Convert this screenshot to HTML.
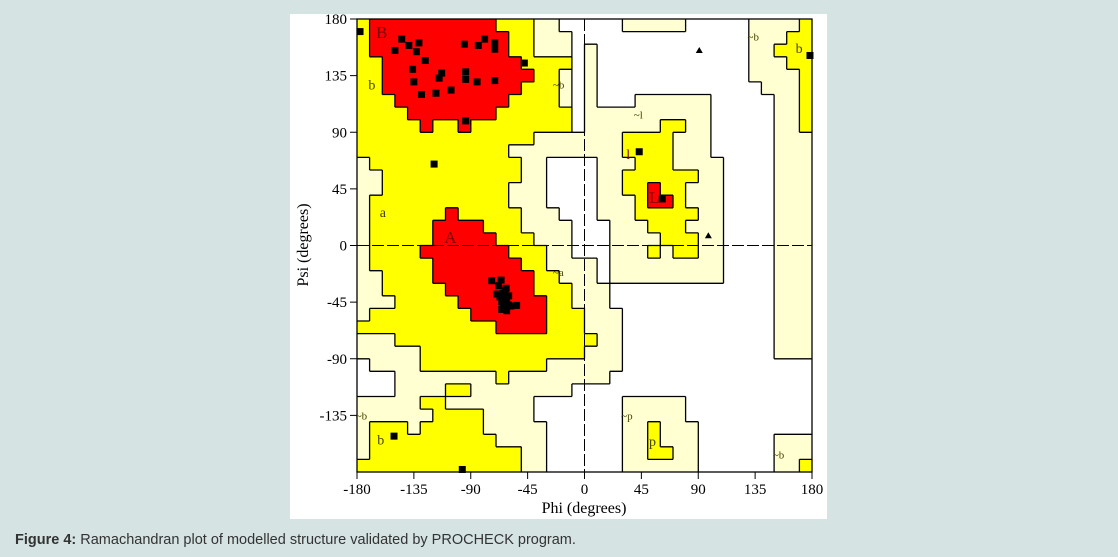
<!DOCTYPE html>
<html><head><meta charset="utf-8">
<style>
html,body{margin:0;padding:0;background:#d5e3e3;width:1118px;height:557px;overflow:hidden;font-family:"Liberation Sans",sans-serif;}
#panel{position:absolute;left:290px;top:14px;width:537px;height:505px;background:#fff;}
#cap{position:absolute;left:15px;top:532px;font-size:14.5px;color:#333;white-space:nowrap;}
svg{position:absolute;left:0;top:0;}
</style></head>
<body>
<div id="panel"></div>
<svg id="chart" width="1118" height="557"></svg>
<div id="cap"><b>Figure 4:</b> Ramachandran plot of modelled structure validated by PROCHECK program.</div>
<script>
// Region cells: [row, colStart, colEnd) on a 36x36 grid of 10-degree cells (row 0 = psi 180..170)
const lightCells=[[0,14,16],[0,21,26],[0,31,36],[1,14,17],[1,31,36],[2,14,17],[2,18,19],[2,31,36],[3,18,19],[3,31,36],
[4,16,17],[4,18,19],[4,31,36],[5,16,17],[5,18,19],[5,32,36],[6,16,17],[6,18,19],[6,22,28],[6,33,36],
[7,18,28],[7,33,36],[8,18,28],[8,33,36],[9,14,28],[9,33,36],[10,12,28],[10,33,36],
[11,0,1],[11,13,15],[11,19,29],[11,33,36],[12,0,2],[12,13,15],[12,19,29],[12,33,36],[13,0,2],[13,12,15],[13,19,29],[13,33,36],
[14,0,1],[14,12,15],[14,19,29],[14,33,36],[15,0,1],[15,13,16],[15,19,29],[15,33,36],[16,0,1],[16,13,17],[16,20,29],[16,33,36],
[17,0,1],[17,14,17],[17,20,29],[17,33,36],[18,0,1],[18,15,17],[18,20,29],[18,33,36],[19,0,1],[19,15,19],[19,20,29],[19,33,36],
[20,0,2],[20,16,19],[20,20,29],[20,33,36],[21,0,2],[21,17,20],[21,33,36],[22,0,3],[22,17,20],[22,33,36],
[23,0,1],[23,18,21],[23,33,36],[24,18,21],[24,33,36],[25,0,3],[25,19,21],[25,33,36],[26,0,5],[26,18,21],[26,33,36],
[27,1,5],[27,15,21],[28,3,11],[28,12,20],[29,3,7],[29,9,17],[30,0,5],[30,7,14],[30,21,26],[31,0,6],[31,10,14],[31,21,26],
[32,0,1],[32,4,5],[32,10,15],[32,21,27],[33,0,1],[33,11,15],[33,21,27],[33,33,36],[34,0,1],[34,13,15],[34,21,27],[34,33,36],
[35,13,15],[35,21,27],[35,33,36]];
const yellowCells=[[0,0,1],[0,11,14],[0,35,36],[1,0,1],[1,12,14],[1,34,36],[2,0,1],[2,12,14],[2,33,36],[3,0,2],[3,13,17],[3,34,36],
[4,0,2],[4,14,16],[4,35,36],[5,0,2],[5,13,16],[5,35,36],[6,0,3],[6,12,16],[6,35,36],[7,0,4],[7,11,17],[7,35,36],
[8,0,17],[8,24,26],[8,35,36],[9,0,14],[9,21,25],[10,0,12],[10,21,25],[11,1,13],[11,22,25],[12,2,13],[12,21,27],
[13,2,12],[13,21,26],[14,1,12],[14,22,26],[15,1,13],[15,22,27],[16,1,13],[16,23,26],[17,1,14],[17,24,27],
[18,1,15],[18,23,24],[18,25,27],[19,1,15],[20,2,16],[21,2,17],[22,3,17],[23,1,18],[24,0,18],[25,3,19],[26,5,18],
[27,5,15],[28,11,12],[29,7,9],[30,5,7],[31,6,10],[32,1,4],[32,5,10],[32,23,24],[33,1,11],[33,23,24],[34,1,13],[34,23,25],
[35,0,13],[35,35,36]];
const redCells=[[0,1,11],[1,1,12],[2,1,12],[3,2,13],[4,2,14],[5,2,13],[6,3,12],[7,4,11],[8,5,6],[8,8,9],
[15,7,8],[16,6,10],[17,6,11],[18,5,12],[19,6,13],[20,6,14],[21,7,14],[22,8,15],[23,9,15],[24,11,15],[13,23,24],[14,23,25]];
// residues (phi, psi)
const phiVals=[-177.6,-144.6,-139,-131,-150,-133,-126,-136,-135,-113,-115,-129,-117.5,-105.6,-95,-84,-79,-71,-71,-47.6,-94,-94,-85,-71,-94,-119,
-73.4,-66,-68,-62,-69.5,-66.9,-64.3,-62.9,-65.5,-61.6,-64.3,-60.3,-65.5,-61.6,-58.4,-53.7,-63,-60,-62,-64,
-150.7,-96.7,43.3,61.5,178.4];
const psiVals=[170,164,159,161,155,154,147,140,130,137,133,120,121,123.5,160,159,164,161,156,145,138,132,130,131,99,64.7,
-28,-27.5,-32,-34,-38.6,-40.8,-38,-42,-44.7,-44.7,-47.3,-47.3,-50.8,-51.9,-48.1,-47.6,-36,-40,-45,-43,
-151.5,-178,74.5,37,151];
const glyPhi=[90.8,98];
const glyPsi=[155,7.7];
const xTicks=[-180,-135,-90,-45,0,45,90,135,180];
const yTicks=[180,135,90,45,0,-45,-90,-135];
const regionLabels=[["B",-165,172,"#700"],["b",-171,131,"#440"],["a",-162,30,"#440"],["A",-111,9,"#700"],["~b",-25,132,"#440"],["~a",-25,-17,"#440"],
["~l",39,108,"#440"],["l",33,76,"#700"],["L",51,41,"#700"],["~b",129,170,"#440"],["b",167,160,"#440"],["~p",29,-131,"#440"],["p",51,-152,"#440"],
["~b",149,-162,"#440"],["~b",-181,-131,"#440"],["b",-164,-151,"#440"]];

const X0=357,X1=812,Y0=19,Y1=472;
const sx=p=>X0+(p+180)*(X1-X0)/360;
const sy=q=>Y0+(180-q)*(Y1-Y0)/360;
const cw=(X1-X0)/36,ch=(Y1-Y0)/36;
const svg=document.getElementById('chart');
const NS='http://www.w3.org/2000/svg';
function mk(t,a,parent){const e=document.createElementNS(NS,t);for(const k in a)e.setAttribute(k,a[k]);(parent||svg).appendChild(e);return e;}

const grid=[];for(let r=0;r<36;r++){grid.push(new Array(36).fill(0));}
function fill(cells,lvl,color,name){
  const g=mk('g',{});
  
  
  cells.forEach(c=>{
    for(let k=c[1];k<c[2];k++)grid[c[0]][k]=lvl;
    const el=mk('rect',{x:X0+c[1]*cw,y:Y0+c[0]*ch,width:(c[2]-c[1])*cw+0.4,height:ch+0.4,fill:color},g);
    
    
  });
}
fill(lightCells,1,'#ffffd2','generously-allowed-region');
fill(yellowCells,2,'#ffff00','additional-allowed-region');
fill(redCells,3,'#ff0000','most-favoured-region');
let d='';
for(let r=0;r<36;r++)for(let c=0;c<36;c++){
  const v=grid[r][c];
  if(c<35&&grid[r][c+1]!==v){const x=X0+(c+1)*cw;d+=`M${x.toFixed(1)},${(Y0+r*ch).toFixed(1)}V${(Y0+(r+1)*ch).toFixed(1)}`;}
  if(r<35&&grid[r+1][c]!==v){const y=Y0+(r+1)*ch;d+=`M${(X0+c*cw).toFixed(1)},${y.toFixed(1)}H${(X0+(c+1)*cw).toFixed(1)}`;}
}
const bd=mk('path',{d:d,stroke:'#000','stroke-width':1.3,fill:'none'});


const zl1=mk('line',{x1:sx(0),x2:sx(0),y1:Y0,y2:Y1,stroke:'#000','stroke-width':1,'stroke-dasharray':'12,3'});


const zl2=mk('line',{x1:X0,x2:X1,y1:sy(0),y2:sy(0),stroke:'#000','stroke-width':1,'stroke-dasharray':'12,3'});


const fr=mk('rect',{x:X0,y:Y0,width:X1-X0,height:Y1-Y0,fill:'none',stroke:'#000','stroke-width':1.3});


regionLabels.forEach(l=>{
  const up=l[0].length===1&&l[0]===l[0].toUpperCase();
  const t=mk('text',{x:sx(l[1]),y:sy(l[2])+9,fill:l[3],'font-family':'Liberation Serif,serif','font-size':l[0].length>1?11:(up?17:14)});
  t.textContent=l[0];
  
  
});
xTicks.forEach(v=>{
  const tk=mk('line',{x1:sx(v),x2:sx(v),y1:Y1,y2:Y1+7,stroke:'#000','stroke-width':1});
  
  
  const t=mk('text',{x:sx(v),y:Y1+22,'text-anchor':'middle','font-family':'Liberation Serif,serif','font-size':15,fill:'#000'});
  t.textContent=v;
  
  
});
yTicks.forEach(v=>{
  const tk=mk('line',{x1:X0-7,x2:X0,y1:sy(v),y2:sy(v),stroke:'#000','stroke-width':1});
  
  
  const t=mk('text',{x:X0-10,y:sy(v)+5,'text-anchor':'end','font-family':'Liberation Serif,serif','font-size':15,fill:'#000'});
  t.textContent=v;
  
  
});
const xt=mk('text',{x:584,y:513,'text-anchor':'middle','font-family':'Liberation Serif,serif','font-size':16,fill:'#000'});
xt.textContent='Phi (degrees)';


const yt=mk('text',{x:308,y:245,'text-anchor':'middle','font-family':'Liberation Serif,serif','font-size':16,fill:'#000',transform:'rotate(-90 308 245)'});
yt.textContent='Psi (degrees)';


phiVals.forEach((p,i)=>{
  const r=mk('rect',{x:sx(p)-3.5,y:sy(psiVals[i])-3.5,width:7,height:7,fill:'#000'});
  
  
});
glyPhi.forEach((p,i)=>{
  const x=sx(p),y=sy(glyPsi[i]);
  const t=mk('polygon',{points:`${x},${y-3.5} ${x-3.5},${y+2.5} ${x+3.5},${y+2.5}`,fill:'#000'});
  
  
});
</script>
</body></html>
